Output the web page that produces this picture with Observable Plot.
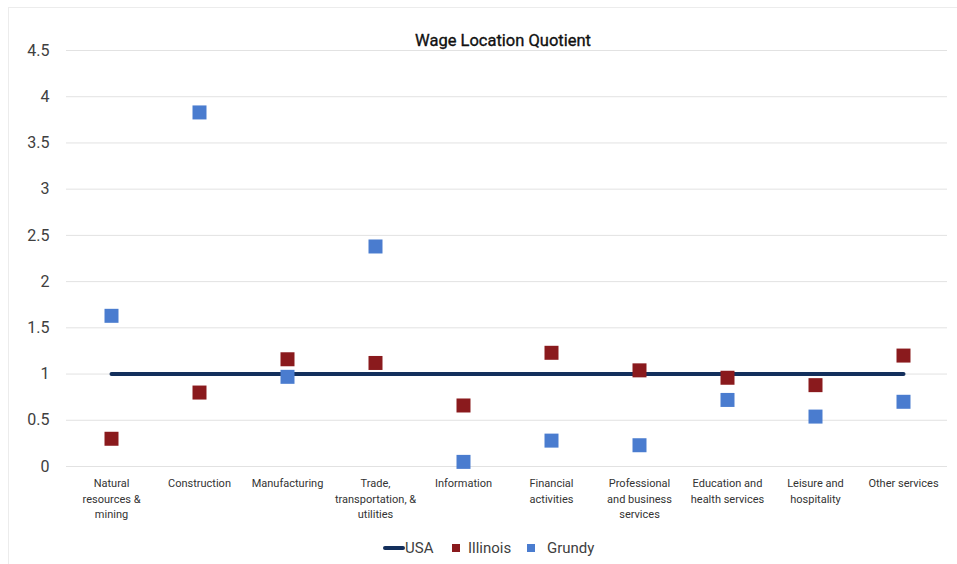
<!DOCTYPE html>
<html>
<head>
<meta charset="utf-8">
<script src="https://cdn.jsdelivr.net/npm/d3@7"></script>
<script src="https://cdn.jsdelivr.net/npm/@observablehq/plot@0.6"></script>
<style>
  html, body { margin: 0; padding: 0; background: #fff; }
  #wrap { position: relative; width: 957px; height: 564px; overflow: hidden; font-family: Roboto, sans-serif; }
  #frame { position: absolute; left: 8px; top: 7px; width: 960px; height: 570px; border: 1px solid #ececec; box-sizing: border-box; }
  #chart { position: absolute; left: 0; top: 0; }
  #legend { position: absolute; left: 0; top: 536px; width: 957px; height: 24px; }
  .li { position: absolute; top: 0; height: 24px; line-height: 24px; font-size: 15px; color: #404040; }
  .sw { position: absolute; }
</style>
</head>
<body>
<div id="wrap">
  <div id="frame"></div>
  <div id="chart"></div>
  <div id="legend"></div>
</div>
<script>
const categories = [
  "Natural resources & mining", "Construction", "Manufacturing",
  "Trade, transportation, & utilities", "Information", "Financial activities",
  "Professional and business services", "Education and health services",
  "Leisure and hospitality", "Other services"
];
const tickLabels = [
  "Natural\nresources &\nmining", "Construction", "Manufacturing",
  "Trade,\ntransportation, &\nutilities", "Information", "Financial\nactivities",
  "Professional\nand business\nservices", "Education and\nhealth services",
  "Leisure and\nhospitality", "Other services"
];
const usa      = [1, 1, 1, 1, 1, 1, 1, 1, 1, 1];
const illinois = [0.30, 0.80, 1.16, 1.12, 0.66, 1.23, 1.04, 0.96, 0.88, 1.20];
const grundy   = [1.63, 3.83, 0.97, 2.38, 0.05, 0.28, 0.23, 0.72, 0.54, 0.70];
const yTicks   = [0, 0.5, 1, 1.5, 2, 2.5, 3, 3.5, 4, 4.5];
const seriesNames = ["USA", "Illinois", "Grundy"];
const seriesColors = ["#132f5c", "#8a1a1d", "#4a7ccf"];

const rows = (vals) => categories.map((c, i) => ({cat: c, v: vals[i]}));
const labelOf = new Map(categories.map((c, i) => [c, tickLabels[i]]));

const chart = Plot.plot({
  width: 957,
  height: 530,
  marginLeft: 66,
  marginRight: 10,
  marginTop: 50,
  marginBottom: 64,
  style: {fontFamily: "Roboto, sans-serif", background: "transparent", overflow: "visible"},
  x: {type: "band", domain: categories, padding: 0, axis: null},
  y: {domain: [0, 4.5], axis: null},
  marks: [
    Plot.gridY(yTicks, {stroke: "#e2e2e2", strokeOpacity: 1, strokeWidth: 1}),
    Plot.axisY(yTicks, {tickSize: 0, tickPadding: 17, fontSize: 16, fill: "#404040", tickFormat: d => String(d), label: null}),
    Plot.axisX(categories, {tickSize: 0, tickPadding: 10, fontSize: 11, lineHeight: 1.4, fill: "#333", stroke: "#333", strokeWidth: 0.2, tickFormat: d => labelOf.get(d), label: null}),
    Plot.line(rows(usa), {x: "cat", y: "v", stroke: seriesColors[0], strokeWidth: 4, strokeLinecap: "round"}),
    Plot.dot(rows(illinois), {x: "cat", y: "v", symbol: "square", r: 7.9, fill: seriesColors[1], stroke: "none"}),
    Plot.dot(rows(grundy), {x: "cat", y: "v", symbol: "square", r: 7.9, fill: seriesColors[2], stroke: "none"}),
    Plot.text(["Wage Location Quotient"], {frameAnchor: "top", lineAnchor: "middle", dy: -10, dx: -4, fontSize: 16.5, fill: "#111", stroke: "#111", strokeWidth: 0.35})
  ]
});
document.getElementById("chart").appendChild(chart);

// Legend
const legend = document.getElementById("legend");
const items = [
  {name: seriesNames[0], color: seriesColors[0], type: "line", sx: 383, tx: 405},
  {name: seriesNames[1], color: seriesColors[1], type: "square", sx: 452, tx: 468},
  {name: seriesNames[2], color: seriesColors[2], type: "square", sx: 527, tx: 547}
];
items.forEach(it => {
  const sw = document.createElement("div");
  sw.className = "sw";
  if (it.type === "line") {
    sw.style.cssText = `left:${it.sx}px;top:10px;width:22px;height:4px;background:${it.color};border-radius:2px;`;
  } else {
    sw.style.cssText = `left:${it.sx}px;top:8px;width:8px;height:8px;background:${it.color};`;
  }
  legend.appendChild(sw);
  const t = document.createElement("div");
  t.className = "li";
  t.style.left = it.tx + "px";
  t.textContent = it.name;
  legend.appendChild(t);
});
</script>
</body>
</html>
